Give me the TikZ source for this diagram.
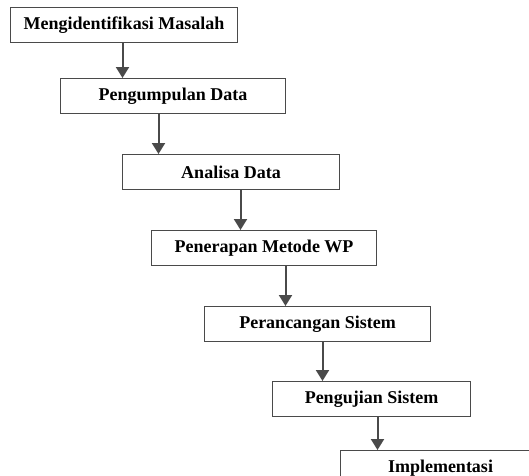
\documentclass[tikz,border=0pt]{standalone}
\usepackage{fontspec}
\setmainfont{Liberation Serif}
\usetikzlibrary{arrows.meta, positioning}
\definecolor{linegray}{HTML}{4A4A4A}

\begin{document}
\begin{tikzpicture}[
    x=1pt, y=1pt,
    stepbox/.style={draw=linegray, line width=1pt, minimum height=35pt, inner sep=0pt, font=\fontsize{18pt}{22pt}\selectfont\bfseries},
    arrow/.style={-{Triangle[length=11pt, width=13pt]}, line width=2pt, linegray},
]
\clip (0,0) rectangle (529,-475);
% Steps
\node[stepbox, minimum width=227pt, anchor=north west] (masalah) at (10,-7) {Mengidentifikasi Masalah};
\node[stepbox, minimum width=225pt, below=35pt of masalah.south west, anchor=north west, xshift=50pt] (data) {Pengumpulan Data};
\node[stepbox, minimum width=217pt, below=40pt of data.south west, anchor=north west, xshift=62pt] (analisa) {Analisa Data};
\node[stepbox, minimum width=225pt, below=40pt of analisa.south west, anchor=north west, xshift=29pt] (wp) {Penerapan Metode WP};
\node[stepbox, minimum width=226pt, below=40pt of wp.south west, anchor=north west, xshift=53pt] (rancang) {Perancangan Sistem};
\node[stepbox, minimum width=198pt, below=39pt of rancang.south west, anchor=north west, xshift=68pt] (uji) {Pengujian Sistem};
\node[stepbox, minimum width=200pt, below=33pt of uji.south west, anchor=north west, xshift=68pt] (impl) {Implementasi};
% Arrows
\draw[arrow] ([xshift=-1.5pt]masalah.south) -- ([xshift=-1.5pt]masalah.south |- data.north);
\draw[arrow] ([xshift=-14.5pt]data.south) -- ([xshift=-14.5pt]data.south |- analisa.north);
\draw[arrow] ([xshift=9.5pt]analisa.south) -- ([xshift=9.5pt]analisa.south |- wp.north);
\draw[arrow] ([xshift=21.5pt]wp.south) -- ([xshift=21.5pt]wp.south |- rancang.north);
\draw[arrow] ([xshift=5pt]rancang.south) -- ([xshift=5pt]rancang.south |- uji.north);
\draw[arrow] ([xshift=6pt]uji.south) -- ([xshift=6pt]uji.south |- impl.north);
\end{tikzpicture}
\end{document}
